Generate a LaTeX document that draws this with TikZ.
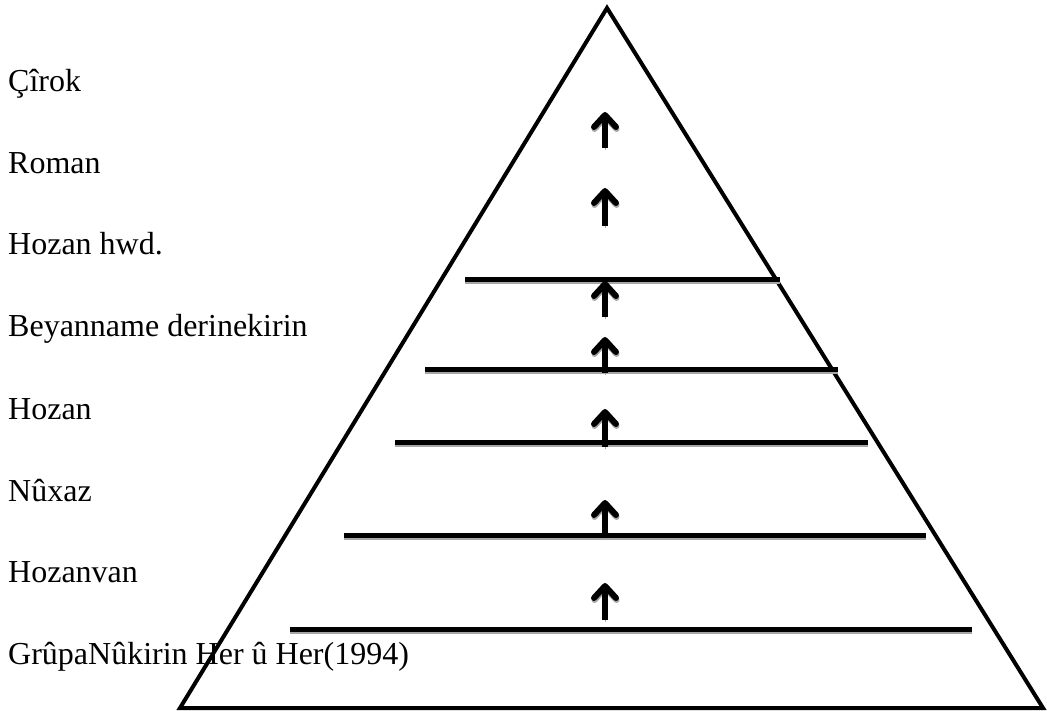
\documentclass[tikz,border=0pt]{standalone}
\usepackage{fontspec}
\setmainfont{Liberation Serif}
\usetikzlibrary{arrows.meta}
\begin{document}
\begin{tikzpicture}[x=1pt,y=-1pt,
  lbl/.style={anchor=base west, inner sep=0pt, font=\fontsize{32}{38}\selectfont},
  tri/.style={draw=black, line width=4pt, line join=miter},
  level/.style={draw=black, line width=5pt,
     preaction={draw=black!35, line width=5pt, transform canvas={yshift=-2pt}}},
  uparrow/.style={draw=black, line width=5.5pt,
     -{Straight Barb[length=12pt,width=22pt,line width=6pt,round]},
     preaction={draw=black!35, transform canvas={yshift=-2pt,xshift=0.5pt}}}
]
\useasboundingbox (0,0) rectangle (1047,711);
% triangle
\coordinate (apex) at (607,8);
\coordinate (bl) at (180,708);
\coordinate (br) at (1043,708);
\draw[tri] (apex) -- (bl) -- (br) -- cycle;
% level lines
\coordinate (l1a) at (465,280); \coordinate (l1b) at (780,280);
\coordinate (l2a) at (425,369); \coordinate (l2b) at (838,369);
\coordinate (l3a) at (395,442); \coordinate (l3b) at (868,442);
\coordinate (l4a) at (344,535); \coordinate (l4b) at (926,535);
\coordinate (l5a) at (290,629); \coordinate (l5b) at (972,629);
\foreach \i in {1,...,5} {\draw[level] (l\i a) -- (l\i b);}
% arrows
\foreach \n/\t/\h in {A/148/112, B/226/188, C/317/281, D/373/337, E/447/409, F/538/500, G/620/583} {
  \coordinate (\n s) at (605,\t);
  \coordinate (\n e) at (605,\h);
  \draw[uparrow] (\n s) -- (\n e);
}
% labels
\node[lbl] (t1) at (8,92) {Çîrok};
\node[lbl] (t2) at (8,174) {Roman};
\node[lbl] (t3) at (8,255) {Hozan hwd.};
\node[lbl] (t4) at (8,337) {Beyanname derinekirin};
\node[lbl] (t5) at (8,419) {Hozan};
\node[lbl] (t6) at (8,501) {Nûxaz};
\node[lbl] (t7) at (8,582) {Hozanvan};
\node[lbl] (t8) at (8,664) {GrûpaNûkirin Her û Her(1994)};
\end{tikzpicture}
\end{document}
